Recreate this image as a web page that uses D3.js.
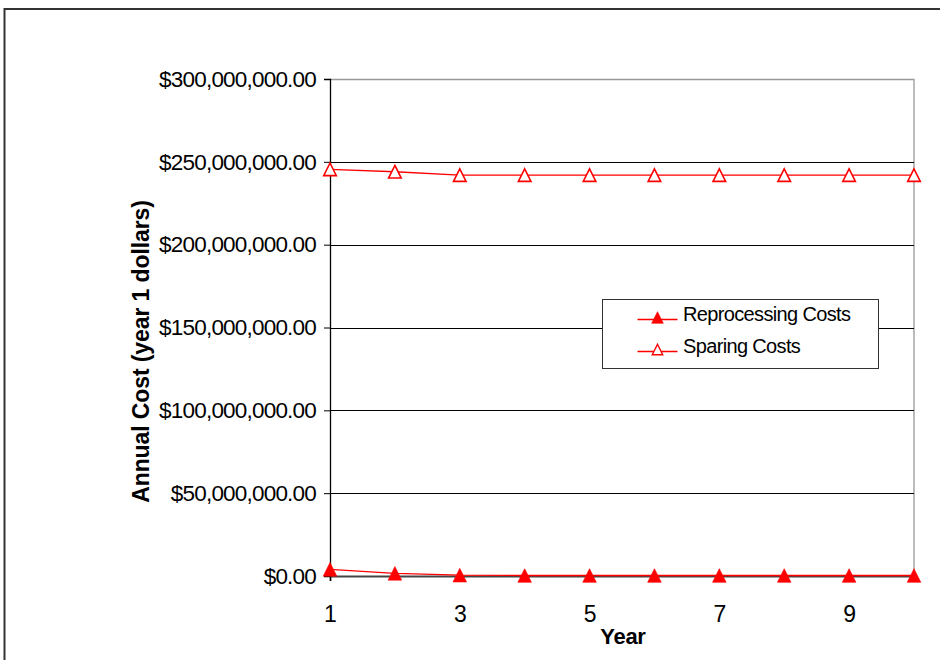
<!DOCTYPE html>
<html>
<head>
<meta charset="utf-8">
<script src="https://cdn.jsdelivr.net/npm/d3@7"></script>
<style>
  html, body { margin: 0; padding: 0; background: #fff; }
  svg { display: block; font-family: "Liberation Sans", Arial, sans-serif; }
</style>
</head>
<body>
<svg id="chart" width="940" height="660"></svg>
<script>
// Annual cost per year, in year-1 dollars
const years = [1, 2, 3, 4, 5, 6, 7, 8, 9, 10];
const reprocessingCosts = [4000000, 1600000, 500000, 300000, 300000, 300000, 300000, 300000, 300000, 300000];
const sparingCosts = [245500000, 244000000, 242000000, 242000000, 242000000, 242000000, 242000000, 242000000, 242000000, 242000000];
const yTicks = [0, 50000000, 100000000, 150000000, 200000000, 250000000, 300000000];
const xTickLabels = [1, 3, 5, 7, 9];
const seriesNames = ["Reprocessing Costs", "Sparing Costs"];

const svg = d3.select("#chart");
const plot = { left: 330, top: 79, right: 914, bottom: 576 };

// outer chart frame
svg.append("rect")
  .attr("x", 4.5).attr("y", 9).attr("width", 960).attr("height", 700)
  .attr("fill", "none").attr("stroke", "#333").attr("stroke-width", 2);

const x = d3.scaleLinear().domain([1, 10]).range([plot.left, plot.right]);
const y = d3.scaleLinear().domain([0, 300000000]).range([plot.bottom, plot.top]);

// plot area border (top/right gray)
svg.append("path")
  .attr("d", `M${plot.left},${plot.top + 0.5}H${plot.right}V${plot.bottom}`)
  .attr("fill", "none").attr("stroke", "#999").attr("stroke-width", 1.3);

// horizontal gridlines
svg.append("g").selectAll("line")
  .data(yTicks.filter(v => v > 0 && v < 300000000))
  .join("line")
  .attr("x1", plot.left).attr("x2", plot.right)
  .attr("y1", d => Math.round(y(d)) + 0.5).attr("y2", d => Math.round(y(d)) + 0.5)
  .attr("stroke", "#000").attr("stroke-width", 1);

const money = d => "$" + d3.format(",.2f")(d);

// y axis
const yAxis = svg.append("g")
  .attr("transform", `translate(${plot.left},0)`)
  .call(d3.axisLeft(y).tickValues(yTicks).tickFormat(money).tickSize(6).tickPadding(8));
yAxis.select(".domain").attr("stroke", "#000").attr("stroke-width", 1.3);
yAxis.selectAll(".tick line").attr("stroke", "#000");
yAxis.selectAll("text")
  .attr("font-size", 22.5).attr("letter-spacing", -0.8).attr("fill", "#000")
  .attr("font-family", "'Liberation Sans', Arial, sans-serif");

// x axis
const xAxis = svg.append("g")
  .attr("transform", `translate(0,${plot.bottom})`)
  .call(d3.axisBottom(x).tickValues(xTickLabels).tickFormat(d3.format("d")).tickSize(5));
xAxis.select(".domain").attr("stroke", "#444").attr("stroke-width", 2);
xAxis.selectAll(".tick line").attr("stroke", "#000");
xAxis.selectAll("text")
  .attr("y", 46).attr("dy", 0)
  .attr("font-size", 23).attr("fill", "#000")
  .attr("font-family", "'Liberation Sans', Arial, sans-serif");

// axis titles
svg.append("text")
  .attr("transform", `translate(149,351.5) rotate(-90)`)
  .attr("text-anchor", "middle")
  .attr("font-size", 23).attr("font-weight", "bold").attr("letter-spacing", -0.1)
  .text("Annual Cost (year 1 dollars)");
svg.append("text")
  .attr("x", 623).attr("y", 644)
  .attr("text-anchor", "middle")
  .attr("font-size", 22).attr("font-weight", "bold").attr("letter-spacing", -0.3)
  .text("Year");

// triangle marker centred on its bounding box
const tri = r => `M0,${-r}L${r},${r}L${-r},${r}Z`;
const line = d3.line().x((d, i) => x(years[i])).y(d => y(d));

// series lines and markers
const series = [
  { name: seriesNames[0], values: reprocessingCosts, filled: true },
  { name: seriesNames[1], values: sparingCosts, filled: false }
];
series.forEach(s => {
  svg.append("path")
    .attr("d", line(s.values))
    .attr("fill", "none").attr("stroke", "#ff0000").attr("stroke-width", 1.3);
  svg.append("g").selectAll("path")
    .data(s.values)
    .join("path")
    .attr("transform", (d, i) => `translate(${x(years[i])},${y(d)})`)
    .attr("d", tri(s.filled ? 6.8 : 6.3))
    .attr("fill", s.filled ? "#ff0000" : "#fff")
    .attr("stroke", "#ff0000").attr("stroke-width", s.filled ? 0.6 : 1.6)
    .attr("stroke-linejoin", "miter");
});

// legend
const legend = svg.append("g").attr("transform", "translate(602.5,299.5)");
legend.append("rect")
  .attr("width", 276).attr("height", 69)
  .attr("fill", "#fff").attr("stroke", "#333").attr("stroke-width", 1);
series.forEach((s, i) => {
  const cy = 20 + i * 32;
  legend.append("line")
    .attr("x1", 35).attr("x2", 75).attr("y1", cy).attr("y2", cy)
    .attr("stroke", "#ff0000").attr("stroke-width", 1.3);
  legend.append("path")
    .attr("transform", `translate(55,${cy - 2})`)
    .attr("d", tri(s.filled ? 5.8 : 5.2))
    .attr("fill", s.filled ? "#ff0000" : "#fff")
    .attr("stroke", "#ff0000").attr("stroke-width", s.filled ? 0.6 : 1.4);
  legend.append("text")
    .attr("x", 80.5).attr("y", cy + 1.5)
    .attr("font-size", 20).attr("letter-spacing", -0.65).attr("fill", "#000")
    .text(s.name);
});
</script>
</body>
</html>
